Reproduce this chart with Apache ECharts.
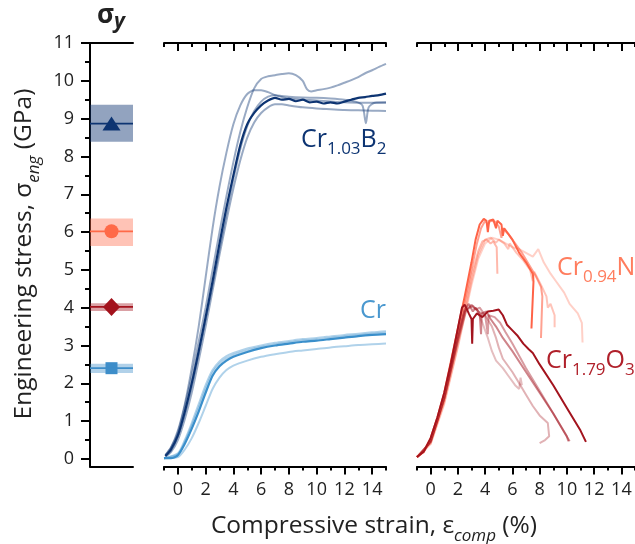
<!DOCTYPE html>
<html><head><meta charset="utf-8">
<script src="https://cdn.jsdelivr.net/npm/echarts@6/dist/echarts.min.js"></script>
<style>html,body{margin:0;padding:0;background:#fff}#c{width:635px;height:544px}</style>
</head><body><div id="c"></div>
<script>
// ---------- data ----------
const xTickMajor = [0,2,4,6,8,10,12,14];
const xTickMinor = [-1,1,3,5,7,9,11,13,15];
const yTickMajor = [0,1,2,3,4,5,6,7,8,9,10,11];
const yTickMinor = [0.5,1.5,2.5,3.5,4.5,5.5,6.5,7.5,8.5,9.5,10.5];

// yield strength summary (left panel)
const sigmaNames = ['Cr1.03B2','Cr0.94N','Cr1.79O3','Cr'];
const sigmaValue = [8.87, 6.02, 4.02, 2.40];
const sigmaLow   = [8.39, 5.63, 3.91, 2.27];
const sigmaHigh  = [9.37, 6.36, 4.12, 2.52];

// Cr1.03B2
const b2Main = [[-0.9,0.08],[-0.5,0.25],[0,0.62],[0.5,1.25],[1,2.0],[1.5,2.85],[2,3.75],[2.5,4.7],[3,5.7],[3.5,6.65],[4,7.5],[4.5,8.3],[5,8.85],[5.5,9.15],[6,9.35],[6.5,9.48],[7,9.55],[7.5,9.5],[8,9.52],[8.5,9.46],[9,9.5],[9.5,9.43],[10,9.45],[10.5,9.4],[11,9.43],[11.5,9.4],[12,9.45],[12.5,9.5],[13,9.55],[13.5,9.57],[14,9.6],[14.5,9.62],[15,9.66]];
const b2Run1 = [[-0.9,0.1],[-0.5,0.3],[0,0.75],[0.5,1.45],[1,2.4],[1.5,3.5],[2,4.8],[2.5,6.1],[3,7.2],[3.5,8.1],[4,8.85],[4.5,9.35],[5,9.65],[5.5,9.75],[6,9.75],[6.5,9.7],[7,9.62],[7.5,9.57],[8,9.53],[9,9.5],[10,9.48],[11,9.45],[12,9.43],[13,9.42],[14,9.42],[15,9.42]];
const b2Run2 = [[-0.9,0.1],[-0.5,0.3],[0,0.7],[0.5,1.4],[1,2.2],[1.5,3.1],[2,4.0],[2.5,5.0],[3,6.0],[3.5,6.95],[4,7.85],[4.5,8.65],[5,9.3],[5.5,9.8],[6,10.05],[6.5,10.12],[7,10.15],[7.5,10.18],[8,10.2],[8.5,10.15],[9,10.0],[9.3,9.78],[9.6,9.72],[10,9.75],[10.5,9.78],[11,9.82],[11.5,9.88],[12,9.95],[12.5,10.02],[13,10.1],[13.5,10.2],[14,10.28],[14.5,10.37],[15,10.45]];
const b2Run3 = [[-0.9,0.08],[-0.5,0.22],[0,0.6],[0.5,1.2],[1,1.95],[1.5,2.8],[2,3.7],[2.5,4.6],[3,5.55],[3.5,6.5],[4,7.4],[4.5,8.2],[5,8.8],[5.5,9.2],[6,9.45],[6.5,9.58],[7,9.62],[7.5,9.6],[8,9.58],[9,9.56],[10,9.55],[11,9.53],[12,9.5],[12.8,9.45],[13.3,9.35],[13.55,8.88],[13.75,9.3],[14.2,9.42],[15,9.43]];
const b2Run4 = [[-0.9,0.06],[-0.5,0.18],[0,0.5],[0.5,1.05],[1,1.75],[1.5,2.6],[2,3.5],[2.5,4.45],[3,5.4],[3.5,6.3],[4,7.15],[4.5,7.9],[5,8.5],[5.5,8.9],[6,9.15],[6.5,9.3],[7,9.38],[7.5,9.38],[8,9.35],[9,9.3],[10,9.27],[11,9.25],[12,9.23],[13,9.22],[14,9.21],[15,9.2]];

// Cr
const crMain = [[-1,0.02],[-0.5,0.02],[0,0.1],[0.5,0.4],[1,0.8],[1.5,1.25],[2,1.75],[2.5,2.2],[3,2.45],[3.5,2.6],[4,2.7],[5,2.83],[6,2.93],[7,3.0],[8,3.05],[9,3.1],[10,3.13],[11,3.17],[12,3.21],[13,3.25],[14,3.28],[15,3.3]];
const crRun1 = [[-1,0.02],[0,0.15],[0.5,0.5],[1,0.95],[1.5,1.45],[2,1.95],[2.5,2.35],[3,2.58],[3.5,2.72],[4,2.8],[5,2.92],[6,3.0],[7,3.07],[8,3.12],[9,3.17],[10,3.2],[11,3.24],[12,3.28],[13,3.31],[14,3.35],[15,3.38]];
const crRun2 = [[-1,0.02],[0,0.12],[0.5,0.45],[1,0.88],[1.5,1.35],[2,1.85],[2.5,2.28],[3,2.52],[3.5,2.66],[4,2.75],[5,2.87],[6,2.96],[7,3.03],[8,3.08],[9,3.13],[10,3.16],[11,3.2],[12,3.24],[13,3.27],[14,3.31],[15,3.34]];
const crRun3 = [[-1,0.02],[0,0.05],[0.5,0.25],[1,0.55],[1.5,0.95],[2,1.4],[2.5,1.85],[3,2.15],[3.5,2.35],[4,2.47],[5,2.6],[6,2.7],[7,2.77],[8,2.83],[9,2.87],[10,2.91],[11,2.95],[12,2.98],[13,3.01],[14,3.03],[15,3.05]];

// Cr0.94N
const nMain = [[-1,0.05],[-0.5,0.2],[0,0.55],[0.5,1.1],[1,1.75],[1.5,2.6],[2,3.45],[2.5,4.3],[3,5.2],[3.3,5.8],[3.6,6.2],[3.9,6.35],[4.1,6.3],[4.2,6.0],[4.3,6.3],[4.6,6.33],[4.8,6.1],[4.9,6.3],[5.2,6.2],[5.3,5.9],[5.4,6.1],[6,5.8],[6.5,5.45],[7,5.2],[7.5,4.9],[7.55,4.7],[7.4,3.45]];
const nRun1 = [[-1,0.05],[-0.5,0.18],[0,0.5],[0.5,1.0],[1,1.65],[1.5,2.45],[2,3.3],[2.5,4.15],[3,5.0],[3.4,5.7],[3.7,6.1],[4.0,6.3],[4.2,6.2],[4.4,6.3],[4.7,6.28],[5.0,6.15],[5.2,5.85],[5.3,6.1],[5.7,5.95],[6.2,5.7],[6.7,5.45],[7.2,5.15],[7.7,4.85],[8.1,4.55],[8.2,4.3],[8.1,3.2]];
const nRun2 = [[-1,0.05],[0,0.45],[1,1.55],[2,3.15],[2.5,4.0],[3,4.85],[3.5,5.5],[3.8,5.75],[4.1,5.8],[4.4,5.7],[4.6,5.75],[4.85,5.6],[4.9,4.9]];
const nRun3 = [[-1,0.05],[0,0.4],[1,1.5],[2,3.0],[2.5,3.85],[3,4.7],[3.5,5.4],[4,5.8],[4.4,5.85],[4.8,5.72],[5.0,5.8],[5.4,5.7],[5.7,5.55],[5.8,5.7],[6.3,5.45],[6.8,5.25],[7.3,5.0],[7.5,4.7],[7.6,4.95],[8.1,4.6],[8.5,4.3],[8.6,4.0],[8.8,4.1],[9.1,3.8],[9.1,3.48]];
const nRun4 = [[-1,0.05],[0,0.4],[1,1.45],[2,2.95],[3,4.6],[3.5,5.3],[4,5.7],[4.5,5.85],[5,5.8],[5.5,5.7],[6,5.6],[6.5,5.55],[7,5.45],[7.5,5.35],[7.9,5.55],[8.3,5.2],[8.8,4.9],[9.2,4.7],[9.8,4.4],[10.2,4.1],[10.8,3.85],[11.1,3.6],[11.15,3.08]];

// Cr1.79O3
const oMain = [[-1,0.05],[-0.5,0.2],[0,0.55],[0.5,1.1],[1,1.75],[1.5,2.55],[2,3.45],[2.3,4.0],[2.5,4.08],[2.8,3.85],[3.0,3.7],[3.05,3.05],[3.1,3.7],[3.4,3.85],[3.8,3.75],[4.2,3.9],[4.6,3.92],[5.0,3.95],[5.3,3.8],[5.6,3.55],[6,3.4],[6.4,3.25],[6.8,3.05],[7.2,2.9],[7.5,2.8],[8,2.5],[9,1.95],[10,1.35],[11,0.75],[11.4,0.45]];
const oRun1 = [[-1,0.05],[-0.5,0.2],[0,0.5],[0.5,1.05],[1,1.7],[1.5,2.5],[2,3.3],[2.5,3.95],[2.8,4.1],[3.1,3.9],[3.3,4.0],[3.6,3.85],[3.7,3.3],[3.75,3.85],[4.1,3.9],[4.4,3.7],[4.8,3.5],[5.3,3.2],[6,2.85],[7,2.3],[8,1.75],[9,1.2],[10.2,0.47]];
const oRun2 = [[-1,0.05],[0,0.45],[1,1.6],[2,3.2],[2.5,3.9],[3,4.08],[3.3,3.95],[3.6,4.0],[4.0,3.8],[4.2,3.3],[4.25,3.8],[4.7,3.75],[5.1,3.6],[5.5,3.35],[6,3.05],[7,2.4],[8,1.8],[9,1.2],[10,0.6],[10.1,0.47]];
const oRun3 = [[-1,0.05],[0,0.45],[1,1.6],[2,3.15],[2.6,3.95],[3.1,4.05],[3.5,3.9],[4,3.8],[4.5,3.5],[4.8,3.2],[5,2.95],[5.3,2.65],[5.5,2.55],[6,2.3],[6.5,2.0],[7,1.7],[7.5,1.4],[8,1.15],[8.6,0.95],[8.7,0.6],[8.4,0.5],[8.0,0.42]];
const oRun4 = [[-1,0.05],[0,0.45],[1,1.6],[2,3.1],[2.6,3.9],[3.0,4.05],[3.4,3.95],[3.8,3.6],[4.2,3.2],[4.5,2.85],[4.8,2.6],[5.3,2.4],[5.7,2.2],[6.2,1.95],[6.5,1.85],[6.6,2.15],[6.7,1.95]];

// ---------- style ----------
const FONT = '"Open Sans", "Noto Sans", sans-serif';
const TXT = '#222';
const C_B2 = '#0d3472', C_CR = '#3a8fcb', C_N = '#ff6347', C_O = '#a3141e';
const sigmaColor = [C_B2, '#ff6a48', '#a3121c', '#3d8dc9'];
const sigmaBand  = ['rgba(13,52,114,0.45)','rgba(255,106,72,0.4)','rgba(163,18,28,0.4)','rgba(61,141,201,0.4)'];
const sigmaSymbol = ['triangle','circle','diamond','rect'];
const sigmaSize = [[18,14],[14,14],[17,18],[12,12]];

function hAxis(grid, pos, opts) {
  return Object.assign({
    type:'value', gridIndex:grid, position:pos, min:-1, max:15,
    axisLine:{show:true, onZero:false, lineStyle:{color:'#000', width:2}},
    axisTick:{show:false}, axisLabel:{show:false}, splitLine:{show:false}
  }, opts || {});
}
const xAxes = [
  hAxis(0,'bottom',{min:0,max:1}),
  hAxis(0,'top',{min:0,max:1}),
];
[1,2].forEach(g => {
  xAxes.push(hAxis(g,'bottom',{
    axisTick:{show:true, inside:false, length:8, customValues:xTickMajor, lineStyle:{color:'#000',width:2}},
    axisLabel:{show:true, customValues:xTickMajor, margin:14, color:TXT, fontSize:18, fontFamily:FONT}
  }));
  xAxes.push(hAxis(g,'bottom',{
    axisLine:{show:false, onZero:false},
    axisTick:{show:true, inside:false, length:4, customValues:xTickMinor, lineStyle:{color:'#000',width:2}}
  }));
  xAxes.push(hAxis(g,'top',{
    axisTick:{show:true, inside:true, length:8, customValues:xTickMajor, lineStyle:{color:'#000',width:2}}
  }));
  xAxes.push(hAxis(g,'top',{
    axisLine:{show:false, onZero:false},
    axisTick:{show:true, inside:true, length:4, customValues:xTickMinor, lineStyle:{color:'#000',width:2}}
  }));
});
// indices: mid bottom=2, right bottom=6

const yAxes = [
  {type:'value', gridIndex:0, position:'left', min:-0.2, max:11,
   axisLine:{show:true, onZero:false, lineStyle:{color:'#000',width:2}},
   axisTick:{show:true, length:9, customValues:yTickMajor, lineStyle:{color:'#000',width:2}},
   axisLabel:{show:true, customValues:yTickMajor, margin:16, color:TXT, fontSize:18, fontFamily:FONT},
   splitLine:{show:false}},
  {type:'value', gridIndex:0, position:'left', min:-0.2, max:11,
   axisLine:{show:false},
   axisTick:{show:true, length:5, customValues:yTickMinor, lineStyle:{color:'#000',width:2}},
   axisLabel:{show:false}, splitLine:{show:false}},
  {type:'value', gridIndex:1, min:-0.2, max:11, show:false},
  {type:'value', gridIndex:2, min:-0.2, max:11, show:false},
];

const series = [];
// left panel
sigmaValue.forEach((v,i) => {
  series.push({
    type:'line', xAxisIndex:0, yAxisIndex:0, silent:true, symbol:'none',
    data:[[0,v],[1,v]], lineStyle:{color:sigmaColor[i], width:1.8},
    markArea:{silent:true, itemStyle:{color:sigmaBand[i]},
      data:[[{xAxis:0, yAxis:sigmaLow[i]},{xAxis:1, yAxis:sigmaHigh[i]}]]}
  });
  series.push({
    type:'scatter', xAxisIndex:0, yAxisIndex:0, silent:true,
    symbol:sigmaSymbol[i], symbolSize:sigmaSize[i],
    data:[[0.5,v]], itemStyle:{color:sigmaColor[i], opacity:1}
  });
});
function curve(data, color, opacity, width, xi, yi, smooth) {
  series.push({type:'line', xAxisIndex:xi, yAxisIndex:yi, data:data, symbol:'none', silent:true,
    smooth: smooth ? 0.25 : false,
    lineStyle:{color:color, opacity:opacity, width:width}});
}
// middle panel
[b2Run1,b2Run2,b2Run3,b2Run4].forEach(d => curve(d, C_B2, 0.42, 2, 2, 2, true));
[crRun1,crRun2,crRun3].forEach(d => curve(d, C_CR, 0.4, 2, 2, 2, true));
curve(crMain, C_CR, 1, 2.2, 2, 2, true);
curve(b2Main, C_B2, 1, 2.2, 2, 2, true);
// right panel
curve(nRun4, C_N, 0.3, 2, 6, 3, false);
curve(nRun3, C_N, 0.38, 2, 6, 3, false);
curve(nRun2, C_N, 0.45, 2, 6, 3, false);
curve(nRun1, C_N, 0.6, 2, 6, 3, false);
curve(oRun4, C_O, 0.28, 2, 6, 3, false);
curve(oRun3, C_O, 0.33, 2, 6, 3, false);
curve(oRun2, C_O, 0.42, 2, 6, 3, false);
curve(oRun1, C_O, 0.52, 2, 6, 3, false);
curve(nMain, C_N, 1, 2, 6, 3, false);
curve(oMain, C_O, 1, 2, 6, 3, false);

function tok(size, color, extra) {
  return Object.assign({fontSize:size, fontFamily:FONT, fill:color, color:color}, extra || {});
}
function chemLabel(parts, color, x, top) {
  const text = parts.map(p => (p[1] ? '{s|' : '{n|') + p[0] + '}').join('');
  return {type:'text', x:x, y:top, silent:true, style:{
    text:text, textAlign:'left', textVerticalAlign:'top', align:'left', verticalAlign:'top',
    rich:{
      n:tok(25, color, {lineHeight:28, verticalAlign:'top'}),
      s:tok(17, color, {lineHeight:17, verticalAlign:'top', padding:[14,0,0,0]})
    }}};
}
function titleText(x, y, rot, text) {
  const g = {type:'text', x:x, y:y, silent:true, style:{
    text:text, textAlign:'center', textVerticalAlign:'top', align:'center', verticalAlign:'top',
    rich:{n:tok(24.5, TXT, {lineHeight:28, verticalAlign:'top'}),
          s:tok(17, TXT, {fontStyle:'italic', lineHeight:17, verticalAlign:'top', padding:[14,0,0,0]})}}};
  if (rot) g.rotation = rot;
  return g;
}

const option = {
  animation:false,
  backgroundColor:'#fff',
  grid:[
    {left:90, top:43, width:43, height:423.5},
    {left:164, top:43, width:222, height:423.5},
    {left:417, top:43, width:222, height:423.5}
  ],
  xAxis:xAxes, yAxis:yAxes, series:series,
  graphic:[
    {type:'text', x:111, y:3, silent:true, style:{
      text:'{a|σ}{b|y}', textAlign:'center', textVerticalAlign:'top', align:'center', verticalAlign:'top',
      rich:{a:tok(26, TXT, {fontWeight:'bold', lineHeight:28, verticalAlign:'top'}),
            b:tok(21, TXT, {fontWeight:'bold', fontStyle:'italic', lineHeight:21, verticalAlign:'top', padding:[9,0,0,0]})}}},
    titleText(12, 254, Math.PI/2, '{n|Engineering stress, σ}{s|eng}{n| (GPa)}'),
    titleText(374, 514, 0, '{n|Compressive strain, ε}{s|comp}{n| (%)}'),
    chemLabel([['Cr',0],['1.03',1],['B',0],['2',1]], '#0d3472', 301, 127),
    chemLabel([['Cr',0]], '#4a98cf', 360, 298),
    chemLabel([['Cr',0],['0.94',1],['N',0]], '#ff7d5e', 557, 255),
    chemLabel([['Cr',0],['1.79',1],['O',0],['3',1]], '#b0202a', 546, 348)
  ]
};
const chart = echarts.init(document.getElementById('c'), null, {renderer:'canvas'});
chart.setOption(option);
</script>
</body></html>
